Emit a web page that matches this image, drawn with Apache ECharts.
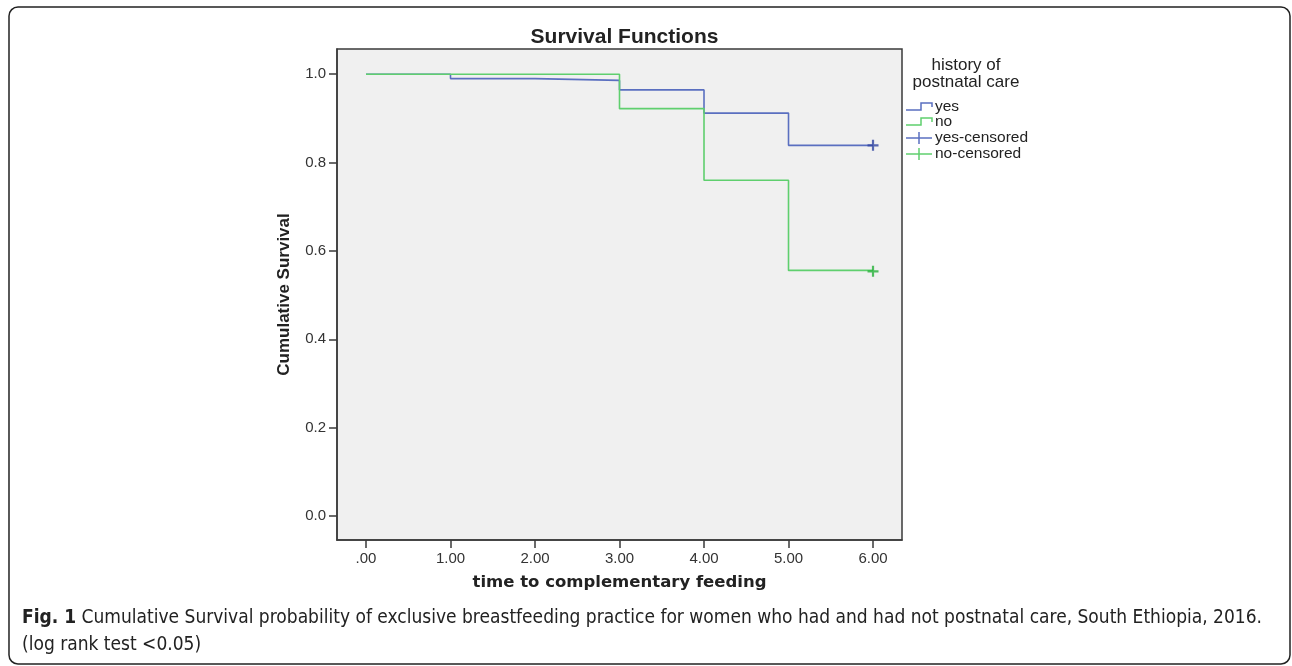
<!DOCTYPE html>
<html>
<head>
<meta charset="utf-8">
<script src="https://cdn.jsdelivr.net/npm/echarts@6/dist/echarts.min.js"></script>
<style>
html,body{margin:0;padding:0;background:#fff;}
#chart{width:1292px;height:666px;}
</style>
</head>
<body>
<div id="chart"></div>
<script>
// ---- data ----
const timePoints = [0, 1, 2, 3, 4, 5, 6];
const yesSurvival = [1.0, 0.990, 0.986, 0.9645, 0.912, 0.839, 0.839];
const noSurvival  = [1.0, 1.0, 1.0, 0.922, 0.760, 0.556, 0.556];
const yesCensored = [[6, 0.839]];
const noCensored  = [[6, 0.554]];
const xTickValues = [0, 1, 2, 3, 4, 5, 6];
const xTickLabels = ['.00', '1.00', '2.00', '3.00', '4.00', '5.00', '6.00'];
const yTickValues = [0, 0.2, 0.4, 0.6, 0.8, 1.0];
const yTickLabels = ['0.0', '0.2', '0.4', '0.6', '0.8', '1.0'];
const seriesNames = ['yes', 'no', 'yes-censored', 'no-censored'];
const legendTitle = ['history of', 'postnatal care'];
const chartTitle = 'Survival Functions';
const xName = 'time to complementary feeding';
const yName = 'Cumulative Survival';
const captionBold = 'Fig. 1';
const captionLine1 = ' Cumulative Survival probability of exclusive breastfeeding practice for women who had and had not postnatal care, South Ethiopia, 2016.';
const captionLine2 = '(log rank test <0.05)';

const BLUE = '#5a6fc0', GREEN = '#5fcf6e', BLUE_D = '#2f43a0', GREEN_D = '#27b03a';
const plusPath = 'path://M4,0H6V4H10V6H6V10H4V6H0V4H4Z';

const chart = echarts.init(document.getElementById('chart'), null, {renderer: 'canvas'});

const gridL = 337, gridT = 49, gridW = 565, gridH = 491;
const lx = 906;
const legendRows = [107, 122, 138, 154];
const capFont = '"DejaVu Sans Condensed", "Liberation Sans Narrow", Arial';

const graphics = [
  {type: 'rect', shape: {x: 9, y: 7, width: 1281, height: 657, r: 9},
   style: {fill: 'none', stroke: '#222', lineWidth: 1.5}, silent: true},
  {type: 'text', x: 966, y: 65, style: {text: legendTitle[0], font: '17px "Liberation Sans", Arial', fill: '#222', align: 'center', verticalAlign: 'middle'}},
  {type: 'text', x: 966, y: 82, style: {text: legendTitle[1], font: '17px "Liberation Sans", Arial', fill: '#222', align: 'center', verticalAlign: 'middle'}},
  // legend icons
  {type: 'polyline', shape: {points: [[lx, legendRows[0] + 3], [lx + 15, legendRows[0] + 3], [lx + 15, legendRows[0] - 4], [lx + 26, legendRows[0] - 4], [lx + 26, legendRows[0]]]}, style: {stroke: BLUE, lineWidth: 1.5, fill: 'none'}},
  {type: 'polyline', shape: {points: [[lx, legendRows[1] + 3], [lx + 15, legendRows[1] + 3], [lx + 15, legendRows[1] - 4], [lx + 26, legendRows[1] - 4], [lx + 26, legendRows[1]]]}, style: {stroke: GREEN, lineWidth: 1.5, fill: 'none'}},
  {type: 'line', shape: {x1: lx, y1: legendRows[2], x2: lx + 26, y2: legendRows[2]}, style: {stroke: BLUE, lineWidth: 1.5}},
  {type: 'line', shape: {x1: lx + 13, y1: legendRows[2] - 6, x2: lx + 13, y2: legendRows[2] + 6}, style: {stroke: BLUE, lineWidth: 1.5}},
  {type: 'line', shape: {x1: lx, y1: legendRows[3], x2: lx + 26, y2: legendRows[3]}, style: {stroke: GREEN, lineWidth: 1.5}},
  {type: 'line', shape: {x1: lx + 13, y1: legendRows[3] - 6, x2: lx + 13, y2: legendRows[3] + 6}, style: {stroke: GREEN, lineWidth: 1.5}},
  // caption
  {type: 'text', x: 22, y: 618, style: {
    text: '{b|' + captionBold + '}{n|' + captionLine1 + '}',
    rich: {
      b: {font: 'bold 19px ' + capFont, fill: '#222'},
      n: {font: '19px ' + capFont, fill: '#222'}
    }, verticalAlign: 'middle'}},
  {type: 'text', x: 22, y: 645, style: {text: captionLine2, font: '19px ' + capFont, fill: '#222', verticalAlign: 'middle'}}
];
seriesNames.forEach(function (n, i) {
  graphics.push({type: 'text', x: lx + 29, y: legendRows[i], style: {text: n, font: '15.5px "Liberation Sans", Arial', fill: '#222', verticalAlign: 'middle'}});
});

const option = {
  animation: false,
  backgroundColor: '#fff',
  title: {
    text: chartTitle, left: gridL + gridW / 2, top: 22, textAlign: 'center',
    textStyle: {fontFamily: '"Liberation Sans", Arial', fontWeight: 'bold', fontSize: 21, color: '#222'}
  },
  grid: {left: gridL, top: gridT, width: gridW, height: gridH, show: true,
    backgroundColor: '#f0f0f0', borderColor: '#3a3a3a', borderWidth: 1.5},
  xAxis: {
    type: 'value', min: -0.343, max: 6.343,
    name: xName, nameLocation: 'middle', nameGap: 34,
    nameTextStyle: {fontFamily: '"DejaVu Sans", Verdana', fontWeight: 'bold', fontSize: 16.5, color: '#222'},
    axisLine: {show: true, onZero: false, lineStyle: {color: '#3a3a3a', width: 1.5}},
    axisTick: {show: true, length: 8, customValues: xTickValues, lineStyle: {color: '#3a3a3a', width: 1.5}},
    axisLabel: {customValues: xTickValues, margin: 11, color: '#333', fontSize: 15, fontFamily: '"Liberation Sans", Arial',
      formatter: function (v) { const i = xTickValues.indexOf(Math.round(v)); return i >= 0 ? xTickLabels[i] : ''; }},
    splitLine: {show: false}
  },
  yAxis: {
    type: 'value', min: -0.054, max: 1.057,
    name: yName, nameLocation: 'middle', nameGap: 44, nameRotate: 90,
    nameTextStyle: {fontFamily: '"Liberation Sans", Arial', fontWeight: 'bold', fontSize: 17, color: '#222'},
    axisLine: {show: true, onZero: false, lineStyle: {color: '#3a3a3a', width: 1.5}},
    axisTick: {show: true, length: 8, customValues: yTickValues, lineStyle: {color: '#3a3a3a', width: 1.5}},
    axisLabel: {customValues: yTickValues, margin: 11, color: '#333', fontSize: 15, fontFamily: '"Liberation Sans", Arial',
      formatter: function (v) { const i = yTickValues.findIndex(t => Math.abs(t - v) < 1e-6); return i >= 0 ? yTickLabels[i] : ''; }},
    splitLine: {show: false}
  },
  series: [
    {name: seriesNames[0], type: 'line', step: 'end', showSymbol: false, symbol: 'none',
     data: timePoints.map((t, i) => [t, yesSurvival[i]]), lineStyle: {color: BLUE, width: 1.6}, z: 2},
    {name: seriesNames[1], type: 'line', step: 'end', showSymbol: false, symbol: 'none',
     data: timePoints.map((t, i) => [t, noSurvival[i]]), lineStyle: {color: GREEN, width: 1.6}, z: 3},
    {name: seriesNames[2], type: 'scatter', symbol: plusPath, symbolSize: 11,
     data: yesCensored, itemStyle: {color: BLUE_D}, z: 4},
    {name: seriesNames[3], type: 'scatter', symbol: plusPath, symbolSize: 11,
     data: noCensored, itemStyle: {color: GREEN_D}, z: 4}
  ],
  graphic: graphics
};
chart.setOption(option);
</script>
</body>
</html>
